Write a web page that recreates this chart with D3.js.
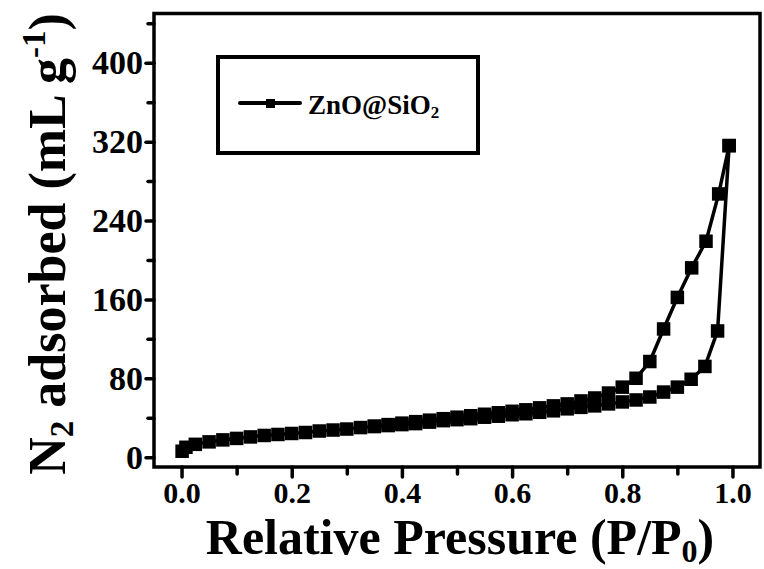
<!DOCTYPE html>
<html><head><meta charset="utf-8">
<script src="https://cdn.jsdelivr.net/npm/d3@7"></script>
<style>
body{margin:0;background:#fff;}
svg{display:block;}
text{font-family:"Liberation Serif","Times New Roman",Times,serif;font-weight:bold;fill:#000;}
</style></head>
<body>
<svg id="c" width="764" height="569"></svg>
<script>
// ---- data ----
const adsX = [0.001,0.008,0.025,0.05,0.075,0.1,0.125,0.15,0.175,0.2,0.225,0.25,0.275,0.3,0.325,0.35,0.375,0.4,0.425,0.45,0.475,0.5,0.525,0.55,0.575,0.6,0.625,0.65,0.675,0.7,0.725,0.75,0.775,0.8,0.825,0.85,0.875,0.9,0.925,0.95,0.973,0.994];
const adsY = [6,10,13,15.5,17.5,19,20.5,22,23,24,25,26.5,27.5,28.5,30,31,32,33,34,35.5,37,38,39,40.5,41.5,43,44,45.5,47,49,50.5,52,54,56,58,61,66,71,79,92,128,316];
const desX = [0.994,0.975,0.952,0.926,0.9,0.875,0.85,0.825,0.8,0.775,0.75,0.725,0.7,0.675,0.65,0.625,0.6,0.575,0.55,0.525,0.5,0.475,0.45,0.425,0.4,0.375,0.35];
const desY = [316,267,219,192,162,130,97,80,71,65,60,57,54,52,50,48,46.5,45,43.5,42,40.5,39,37.5,36,34.5,33,31.5];
const xMajor = [0,0.2,0.4,0.6,0.8,1.0];
const xMinor = [0.1,0.3,0.5,0.7,0.9];
const yMajor = [0,80,160,240,320,400];
const yMinor = [40,120,200,280,360,440];
const seriesName = "ZnO@SiO";

const svg = d3.select("#c");
const L=154,R=760,T=13.5,B=467;
const x = d3.scaleLinear().domain([-0.05,1.05]).range([L,R]);
const y = d3.scaleLinear().domain([-10,450]).range([B,T]);

function styleAxis(g){
  g.select(".domain").remove();
  g.selectAll(".tick line").attr("stroke","#000").attr("stroke-width",3.5).attr("stroke-linecap","round");
}
const gxMinor = svg.append("g").attr("transform",`translate(0,${B})`)
  .call(d3.axisBottom(x).tickValues(xMinor).tickSize(7).tickFormat(""));
styleAxis(gxMinor);
const gx = svg.append("g").attr("transform",`translate(0,${B})`)
  .call(d3.axisBottom(x).tickValues(xMajor).tickSize(10).tickPadding(5).tickFormat(d3.format(".1f")));
styleAxis(gx);
gx.selectAll(".tick text").attr("font-size",30).attr("fill","#000");

const gyMinor = svg.append("g").attr("transform",`translate(${L},0)`)
  .call(d3.axisLeft(y).tickValues(yMinor).tickSize(6).tickFormat(""));
styleAxis(gyMinor);
const gy = svg.append("g").attr("transform",`translate(${L},0)`)
  .call(d3.axisLeft(y).tickValues(yMajor).tickSize(8).tickPadding(3).tickFormat(d3.format("d")));
styleAxis(gy);
gy.selectAll(".tick text").attr("font-size",34).attr("fill","#000");

// frame
svg.append("rect").attr("x",L).attr("y",T).attr("width",R-L).attr("height",B-T)
  .attr("fill","none").attr("stroke","#000").attr("stroke-width",3.5);

// series
const line = d3.line().x(d=>x(d[0])).y(d=>y(d[1]));
const ads = adsX.map((v,i)=>[v,adsY[i]]);
const des = desX.map((v,i)=>[v,desY[i]]);
[ads,des].forEach(data=>{
  svg.append("path").datum(data).attr("d",line).attr("fill","none")
    .attr("stroke","#000").attr("stroke-width",3.5).attr("stroke-linejoin","round");
});
const ms = 13.5;
[ads,des].forEach(data=>{
  svg.append("g").selectAll("rect").data(data).join("rect")
    .attr("x",d=>x(d[0])-ms/2).attr("y",d=>y(d[1])-ms/2)
    .attr("width",ms).attr("height",ms).attr("fill","#000");
});

// legend
svg.append("rect").attr("x",218).attr("y",57).attr("width",260).attr("height",96)
  .attr("fill","none").attr("stroke","#000").attr("stroke-width",4);
svg.append("line").attr("x1",240).attr("x2",300).attr("y1",103).attr("y2",103)
  .attr("stroke","#000").attr("stroke-width",4).attr("stroke-linecap","round");
svg.append("rect").attr("x",266).attr("y",99).attr("width",9).attr("height",9).attr("fill","#000");
const lt = svg.append("text").attr("x",308).attr("y",114).attr("font-size",27);
lt.append("tspan").text(seriesName);
lt.append("tspan").attr("font-size",17).attr("dy",4).text("2");

// axis titles
const xt = svg.append("text").attr("x",460).attr("y",554).attr("text-anchor","middle").attr("font-size",50);
xt.append("tspan").text("Relative Pressure (P/P");
xt.append("tspan").attr("font-size",32).attr("dy",8).text("0");
xt.append("tspan").attr("dy",-8).text(")");

const yt = svg.append("text").attr("transform","translate(65,244) rotate(-90)").attr("text-anchor","middle").attr("font-size",52);
yt.append("tspan").text("N");
yt.append("tspan").attr("font-size",33).attr("dy",8).text("2");
yt.append("tspan").attr("dy",-8).text(" adsorbed (mL g");
yt.append("tspan").attr("font-size",33).attr("dy",-20).text("-1");
yt.append("tspan").attr("dy",20).text(")");
</script>
</body></html>
